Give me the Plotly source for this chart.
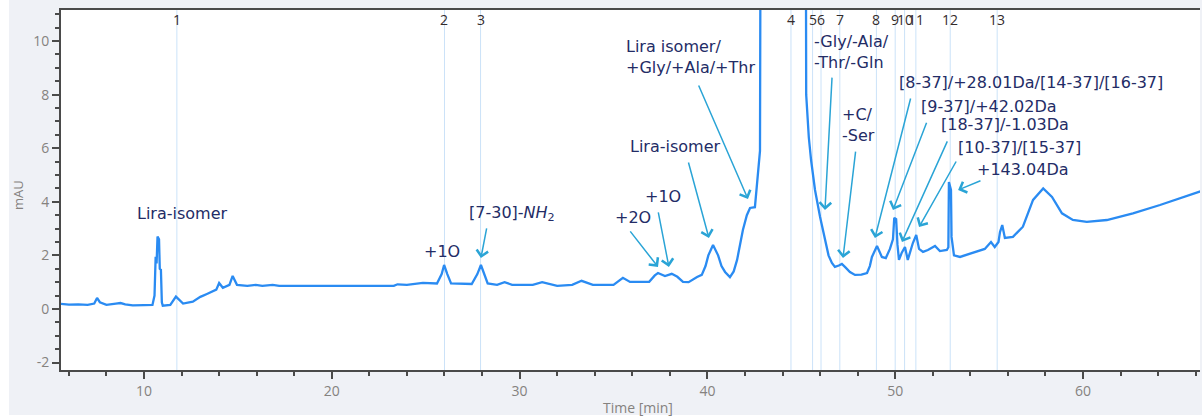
import plotly.graph_objects as go

# ---- chromatogram trace (time [min], signal [mAU]) ----
time_min = [5.58, 6.0, 6.5, 7.0, 7.35, 7.5, 7.65, 8.0, 8.5, 8.75, 9.0, 9.4, 10.0, 10.45,
            10.56, 10.62, 10.67, 10.72, 10.8, 10.84, 10.9, 10.95, 11.0, 11.4, 11.7, 12.08,
            12.6, 13.0, 13.35, 13.85, 14.0, 14.2, 14.55, 14.72, 14.95, 15.5, 15.95, 16.3,
            16.85, 17.2, 20.0, 23.3, 23.5, 24.0, 24.85, 25.6, 25.85, 25.98, 26.15, 26.35,
            27.45, 27.75, 27.94, 28.1, 28.3, 28.8, 29.2, 29.6, 30.7, 31.2, 31.6, 32.0, 32.8,
            33.3, 33.9, 34.3, 35.0, 35.5, 35.88, 36.9, 37.2, 37.37, 37.74, 38.1, 38.4, 38.7,
            39.0, 39.45, 39.7, 39.9, 40.05, 40.3, 40.57, 40.75, 40.94, 41.2, 41.4, 41.58,
            41.75, 41.89, 42.1, 42.27, 42.53, 42.64, 42.8, 42.88, 45.2, 45.26, 45.4, 45.52,
            45.73, 46.0, 46.25, 46.45, 46.63, 46.79, 47.0, 47.16, 47.35, 47.59, 47.86, 48.2,
            48.5, 48.65, 48.76, 49.03, 49.29, 49.5, 49.72, 49.88, 49.95, 50.05, 50.12, 50.2,
            50.35, 50.52, 50.67, 50.94, 51.12, 51.27, 51.48, 51.74, 52.12, 52.38, 52.75,
            52.83, 52.86, 52.92, 52.97, 53.0, 53.13, 53.45, 53.8, 54.15, 54.77, 55.1, 55.3,
            55.5, 55.58, 55.7, 55.84, 56.27, 56.8, 57.34, 57.88, 58.35, 58.88, 59.46, 60.2,
            61.27, 62.66, 64.1, 65.17, 66.3]
signal_mau = [0.19, 0.16, 0.17, 0.15, 0.2, 0.41, 0.25, 0.15, 0.2, 0.22, 0.17, 0.13, 0.14, 0.15,
              0.5, 1.95, 1.7, 2.7, 2.6, 1.5, 1.46, 0.25, 0.12, 0.15, 0.46, 0.2,
              0.27, 0.45, 0.56, 0.72, 0.97, 0.79, 0.9, 1.23, 0.9, 0.86, 0.9, 0.86,
              0.9, 0.86, 0.86, 0.86, 0.92, 0.9, 0.97, 0.95, 1.3, 1.64, 1.3, 0.95,
              0.93, 1.3, 1.64, 1.3, 0.95, 0.9, 1.0, 0.9, 0.9, 1.0, 0.92, 0.86, 0.9,
              1.05, 0.9, 0.9, 0.9, 1.16, 1.01, 1.01, 1.25, 1.34, 1.23, 1.31, 1.2, 1.01,
              1.0, 1.19, 1.27, 1.6, 2.0, 2.39, 2.0, 1.6, 1.38, 1.19, 1.4, 1.83,
              2.4, 2.95, 3.5, 3.77, 3.8, 4.7, 5.9, 30.0, 30.0, 8.0, 6.4, 5.56,
              4.44, 3.43, 2.57, 2.0, 1.72, 1.57, 1.62, 1.68, 1.55, 1.38, 1.27, 1.28,
              1.34, 1.6, 1.94, 2.35, 1.94, 1.9, 2.24, 2.6, 3.4, 3.35, 2.4, 1.83,
              2.1, 2.31, 1.83, 2.46, 2.76, 2.24, 2.13, 2.2, 2.35, 2.16, 2.2,
              2.3, 4.74, 4.5, 4.44, 2.69, 2.0, 1.94, 2.02, 2.09, 2.24, 2.5, 2.31,
              2.5, 2.87, 3.13, 2.65, 2.69, 3.07, 4.07, 4.5, 4.18, 3.57, 3.32, 3.25,
              3.32, 3.57, 3.88, 4.14, 4.4]

# ---- axis ticks ----
x_tick_values = [10, 20, 30, 40, 50, 60]
x_tick_labels = ["10", "20", "30", "40", "50", "60"]
y_tick_values = [-2, 0, 2, 4, 6, 8, 10]
y_tick_labels = ["-2", "0", "2", "4", "6", "8", "10"]

# ---- numbered peak markers ----
peak_numbers = ["1", "2", "3", "4", "5", "6", "7", "8", "9", "10", "11", "12", "13"]
peak_times = [11.75, 26.0, 27.92, 44.45, 45.6, 46.05, 47.05, 49.0, 50.0, 50.5, 51.1, 52.93, 55.43]

# ---- peak annotations: label text, text anchor (x, y), arrow tail (x, y), arrow tip (x, y) ----
label_texts = ["Lira-isomer", "+1O", "[7-30]-<i>NH</i><sub>2</sub>", "+2O", "+1O", "Lira-isomer",
               "Lira isomer/<br>+Gly/+Ala/+Thr", "-Gly/-Ala/<br>-Thr/-Gln", "+C/<br>-Ser",
               "[8-37]/+28.01Da/[14-37]/[16-37]", "[9-37]/+42.02Da", "[18-37]/-1.03Da",
               "[10-37]/[15-37]", "+143.04Da"]
label_x = [9.52, 24.8, 27.2, 34.97, 36.57, 35.77, 35.56, 45.57, 47.06, 50.1, 51.27, 52.33, 53.24, 54.25]
label_y = [3.58, 2.16, 3.58, 3.43, 4.18, 6.08, 9.42, 9.61, 6.88, 8.47, 7.57, 6.87, 6.04, 5.19]

arrow_tail_x = [28.26, 35.83, 37.37, 38.97, 39.5, 46.64, 47.9, 50.84, 51.7, 52.81, 53.29, 54.62]
arrow_tail_y = [3.06, 2.95, 3.66, 5.52, 8.4, 8.69, 5.93, 7.91, 7.01, 6.31, 5.56, 4.81]
arrow_tip_x = [27.94, 37.37, 37.95, 40.08, 42.16, 46.26, 47.22, 48.92, 49.88, 50.36, 51.27, 53.35]
arrow_tip_y = [1.90, 1.57, 1.57, 2.65, 4.1, 3.69, 1.90, 2.65, 3.69, 2.5, 3.06, 4.44]

X_RANGE = [5.58, 66.23]
Y_RANGE = [-2.28, 11.16]

TRACE_COLOR = "#2a8bf2"
ARROW_COLOR = "#2aa4d6"
LABEL_COLOR = "#232c66"
TICK_COLOR = "#85827f"
AXIS_COLOR = "#4a4a4a"

fig = go.Figure()
fig.add_trace(go.Scatter(x=time_min, y=signal_mau, mode="lines",
                         line=dict(color=TRACE_COLOR, width=2.3), hoverinfo="skip",
                         showlegend=False))

shapes = []
for t in peak_times:
    shapes.append(dict(type="line", xref="x", yref="paper", x0=t, x1=t, y0=0, y1=1,
                       line=dict(color="rgba(140,190,240,0.45)", width=1), layer="below"))
# white outer strips of the screenshot
shapes.append(dict(type="rect", xref="paper", yref="paper", x0=-61 / 1139, x1=-52 / 1139,
                   y0=-47 / 360, y1=10 / 360 + 1, fillcolor="white", line=dict(width=0)))
shapes.append(dict(type="rect", xref="paper", yref="paper", x0=-61 / 1139, x1=1 + 2 / 1139,
                   y0=-47 / 360, y1=-45 / 360, fillcolor="white", line=dict(width=0)))

annotations = []
for n, t in zip(peak_numbers, peak_times):
    annotations.append(dict(x=t, y=10.82, xref="x", yref="y", text=n, showarrow=False,
                            font=dict(family="Open Sans", size=14, color="#332b2b")))
for txt, x, y in zip(label_texts, label_x, label_y):
    annotations.append(dict(x=x, y=y, xref="x", yref="y", text=txt, showarrow=False,
                            xanchor="left", yanchor="middle", align="left",
                            font=dict(family="DejaVu Sans", size=16, color=LABEL_COLOR)))
for tx, ty, hx, hy in zip(arrow_tail_x, arrow_tail_y, arrow_tip_x, arrow_tip_y):
    annotations.append(dict(x=hx, y=hy, ax=tx, ay=ty, xref="x", yref="y", axref="x", ayref="y",
                            text="", showarrow=True, arrowhead=4, arrowsize=1.5,
                            arrowwidth=1.5, arrowcolor=ARROW_COLOR))
annotations.append(dict(x=-43 / 1139, y=0.486, xref="paper", yref="paper", text="mAU",
                        textangle=-90, showarrow=False, xanchor="center", yanchor="middle",
                        font=dict(family="Open Sans", size=13, color=TICK_COLOR)))
annotations.append(dict(x=(638 - 61) / 1139, y=(370 - 407) / 360, xref="paper", yref="paper",
                        text="Time [min]", showarrow=False, xanchor="center", yanchor="middle",
                        font=dict(family="Open Sans", size=14, color=TICK_COLOR)))

fig.update_layout(
    width=1202, height=417,
    margin=dict(l=61, r=2, t=10, b=47),
    paper_bgcolor="#eff1f6", plot_bgcolor="white",
    shapes=shapes, annotations=annotations, showlegend=False,
    xaxis=dict(range=X_RANGE, tickmode="array", tickvals=x_tick_values, ticktext=x_tick_labels,
               showgrid=False, zeroline=False,
               showline=True, linecolor=AXIS_COLOR, linewidth=2, mirror=True,
               ticks="outside", ticklen=7, tickwidth=2, tickcolor=AXIS_COLOR,
               minor=dict(dtick=2, tick0=0, ticks="outside", ticklen=4, tickwidth=2,
                          tickcolor=AXIS_COLOR, showgrid=False),
               tickfont=dict(family="Open Sans", size=14, color=TICK_COLOR)),
    yaxis=dict(range=Y_RANGE, tickmode="array", tickvals=y_tick_values, ticktext=y_tick_labels,
               showgrid=False, zeroline=False,
               showline=True, linecolor=AXIS_COLOR, linewidth=2,
               ticks="outside", ticklen=7, tickwidth=2, tickcolor=AXIS_COLOR,
               minor=dict(dtick=0.5, tick0=0, ticks="outside", ticklen=4, tickwidth=2,
                          tickcolor=AXIS_COLOR, showgrid=False),
               tickfont=dict(family="Open Sans", size=14, color=TICK_COLOR)),
)

fig.write_html("out.html")
